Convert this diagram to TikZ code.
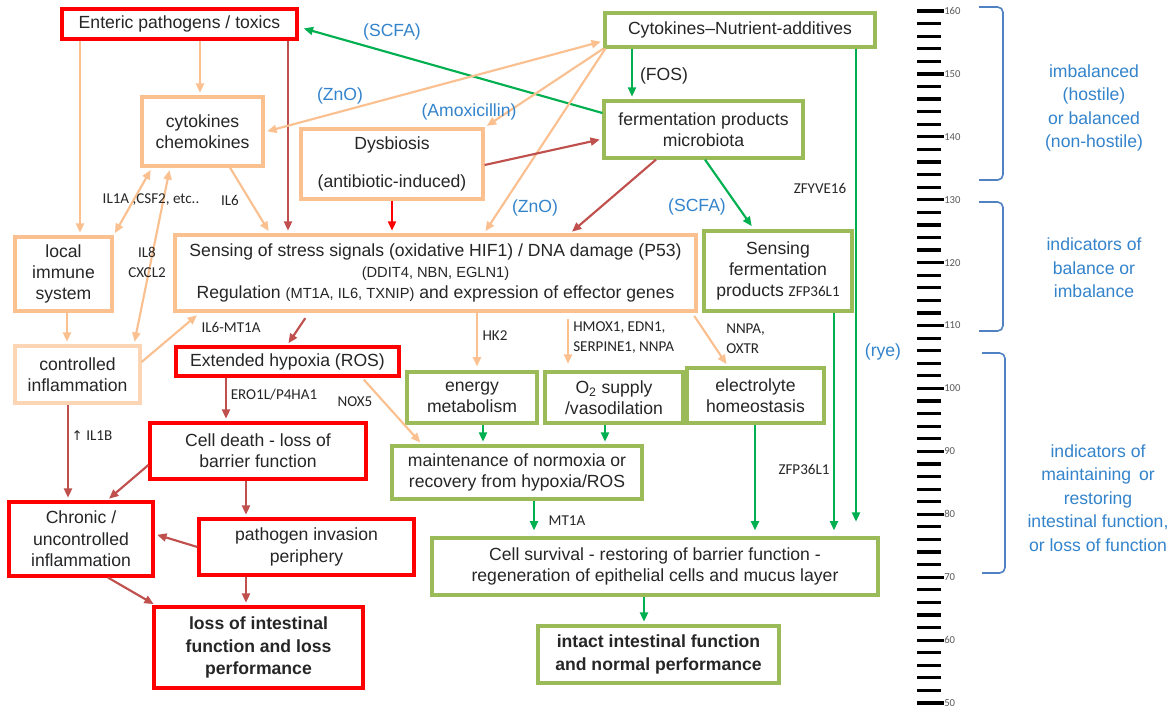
\documentclass[tikz,border=0pt]{standalone}
\usepackage{fontspec}
\setmainfont{Liberation Sans}
\newfontfamily\genefam{Carlito}
\newfontfamily\symfam{DejaVu Sans}
\usetikzlibrary{arrows.meta,calc}

\definecolor{peach}{RGB}{250,192,144}
\definecolor{peachlt}{RGB}{252,213,180}
\definecolor{dred}{RGB}{192,80,77}
\definecolor{bred}{RGB}{255,0,0}
\definecolor{agreen}{RGB}{0,176,80}
\definecolor{bgreen}{RGB}{155,187,89}
\definecolor{lblue}{RGB}{52,132,204}
\definecolor{brkblue}{RGB}{80,130,195}
\definecolor{txt}{RGB}{38,38,38}
\definecolor{scgrey}{RGB}{90,90,90}

\newcommand\mainsz{\fontsize{13.2pt}{16pt}\selectfont}
\newcommand\smallsz{\fontsize{11pt}{13pt}\selectfont}
\newcommand\boldsz{\fontsize{13.2pt}{17pt}\selectfont\bfseries}
\newcommand\genesz{\genefam\fontsize{11.3pt}{15pt}\selectfont}
\newcommand\brksz{\fontsize{13.2pt}{17.6pt}\selectfont}

% box from its corners (x1,y1)-(x2,y2) in picture units
\newcommand\bx[7]{\node[#6, minimum width={(#4-#2)*0.75pt}, minimum height={(#5-#3)*0.75pt}] (#1) at ({(#2+#4)/2},{(#3+#5)/2}) {#7};}

\begin{document}
\begin{tikzpicture}[x=0.75pt,y=-0.75pt,
  >={Triangle[length=7pt,width=6pt]},
  box/.style={draw, line width=2.4pt, fill=white, inner sep=0pt, align=center, text=txt, font=\mainsz},
  redbox/.style={box, draw=bred},
  grnbox/.style={box, draw=bgreen},
  orbox/.style={box, draw=peach},
  ltbox/.style={box, draw=peachlt},
  arr/.style={line width=1.6pt, ->, shorten >=2pt},
  pk/.style={arr, draw=peach},
  dr/.style={arr, draw=dred},
  br/.style={arr, draw=bred},
  gr/.style={arr, draw=agreen},
  lbl/.style={font=\genesz, text=txt, inner sep=0pt},
  blbl/.style={font=\mainsz, text=lblue, inner sep=0pt},
  brk/.style={draw=brkblue, line width=1.2pt, rounded corners=4pt},
  brktext/.style={font=\brksz, text=lblue, align=center, inner sep=0pt},
  sctick/.style={line width=2.4pt, black},
  sclbl/.style={font=\genefam\fontsize{8pt}{8pt}\selectfont, text=scgrey, inner sep=0pt, anchor=west}
]
\fill[white] (0,0) rectangle (1173,711);
\useasboundingbox (0,0) rectangle (1173,711);

% ---------- boxes ----------
\bx{ent}{62}{9}{297}{39}{redbox}{Enteric pathogens / toxics}
\bx{cna}{605}{13}{875}{47}{grnbox}{Cytokines–Nutrient-additives}
\bx{cyt}{142}{97}{263}{166}{orbox}{cytokines\\chemokines}
\bx{dys}{301}{129}{483}{199}{orbox}{Dysbiosis\\[12pt](antibiotic-induced)}
\bx{ferm}{604}{101}{803}{158}{grnbox}{fermentation products\\microbiota}
\bx{lis}{15}{237}{112}{311}{orbox}{local\\immune\\system}
\bx{sss}{175}{235}{696}{311}{orbox}{Sensing of stress signals (oxidative HIF1) / DNA damage (P53)\\{\smallsz (DDIT4, NBN, EGLN1)}\\Regulation {\smallsz (MT1A, IL6, TXNIP)} and expression of effector genes}
\bx{sfp}{704}{231}{852}{311}{grnbox}{Sensing\\fermentation\\products {\genesz ZFP36L1}}
\bx{cin}{15}{346}{140}{403}{ltbox}{controlled\\inflammation}
\bx{ext}{176}{347}{399}{376}{redbox}{Extended hypoxia (ROS)}
\bx{enm}{407}{372}{537}{423}{grnbox}{energy\\metabolism}
\bx{otwo}{545}{372}{683}{423}{grnbox}{O\textsubscript{2} supply\\/vasodilation}
\bx{ely}{687}{368}{824}{423}{grnbox}{electrolyte\\homeostasis}
\bx{cdt}{150}{423}{366}{479}{redbox}{Cell death - loss of\\barrier function}
\bx{mnt}{392}{446}{642}{499}{grnbox}{maintenance of normoxia or\\recovery from hypoxia/ROS}
\bx{chr}{9}{502}{153}{576}{redbox}{Chronic /\\uncontrolled\\inflammation}
\bx{pin}{199}{519}{414}{575}{redbox}{pathogen invasion\\periphery}
\bx{csv}{432}{538}{878}{595}{grnbox}{Cell survival - restoring of barrier function -\\regeneration of epithelial cells and mucus layer}
\bx{los}{154}{607}{363}{688}{redbox, font=\boldsz}{loss of intestinal\\function and loss\\performance}
\bx{itc}{538}{626}{779}{683}{grnbox, font=\boldsz}{intact intestinal function\\and normal performance}

% ---------- connectors ----------
\draw[pk] (ent.south -| 80,0) -- (lis.north -| 80,0);
\draw[pk] (ent.south -| 200,0) -- (cyt.north -| 200,0);
\draw[dr] (ent.south -| 288,0) -- (sss.north -| 288,0);
\draw[gr, shorten >=4pt] (ferm.west |- 0,113) -- (ent.east |- 0,27);
\draw[pk, <->, shorten <=2pt] (cyt.east |- 0,132) -- (cna.west |- 0,41);
\draw[pk] (cna.south west) -- (dys.north east);
\draw[pk] ([xshift=1.5pt]cna.south west) -- (sss.north -| 484,0);
\draw[gr] (cna.south -| 632,0) -- (ferm.north -| 632,0);
\draw[gr, shorten >=11pt] (cna.south -| 856,0) -- (csv.north -| 856,0);
\draw[dr] (dys.east |- 0,165) -- (ferm.west |- 0,139);
\draw[br] (dys.south -| 392,0) -- (sss.north -| 392,0);
\draw[dr] (ferm.south -| 656,0) -- (sss.north -| 570,0);
\draw[gr, shorten >=3pt] (ferm.south -| 705,0) -- (sfp.north -| 754,0);
\draw[pk] (cyt.south -| 230,0) -- (sss.north -| 270,0);
\draw[pk, <->, shorten <=2pt] (cyt.south -| 152,0) -- (lis.north east);
\draw[pk, <->, shorten <=2pt] (cyt.south -| 170,0) -- (cin.north -| 134,0);
\draw[pk] (lis.south -| 67,0) -- (cin.north -| 67,0);
\draw[pk, shorten >=3pt] (cin.east |- 0,362) -- (sss.south -| 200,0);
\draw[dr] (cin.south -| 68,0) -- (chr.north -| 68,0);
\draw[dr, shorten <=5pt] (sss.south -| 309,0) -- (ext.north -| 287,0);
\draw[pk, shorten >=3pt] (sss.south -| 477,0) -- (enm.north -| 477,0);
\draw[pk, shorten <=5pt, shorten >=5pt] (sss.south -| 568,0) -- (otwo.north -| 568,0);
\draw[pk, shorten <=3pt] (sss.south -| 692,0) -- (ely.north -| 728,0);
\draw[dr] (ext.south -| 226,0) -- (cdt.north -| 226,0);
\draw[pk, shorten <=2pt] (ext.south -| 362,0) -- (mnt.north -| 422,0);
\draw[gr] (enm.south -| 483,0) -- (mnt.north -| 483,0);
\draw[gr] (otwo.south -| 605,0) -- (mnt.north -| 605,0);
\draw[gr, shorten >=4.5pt] (ely.south -| 755,0) -- (csv.north -| 755,0);
\draw[gr, shorten >=4.5pt] (sfp.south -| 834,0) -- (csv.north -| 834,0);
\draw[gr, shorten >=4.5pt] (mnt.south -| 534,0) -- (csv.north -| 534,0);
\draw[gr] (csv.south -| 644,0) -- (itc.north -| 644,0);
\draw[dr] (cdt.west |- 0,465) -- (chr.north -| 107,0);
\draw[dr] (cdt.south -| 246,0) -- (pin.north -| 246,0);
\draw[dr] (pin.west |- 0,547) -- (chr.east |- 0,534);
\draw[dr] (chr.south -| 108,0) -- (los.north -| 156,0);
\draw[dr] (pin.south -| 246,0) -- (los.north -| 246,0);

% ---------- connector labels ----------
\node[blbl] (lscfa1) at (392,32) {(SCFA)};
\node[blbl] (lzno1) at (340,96) {(ZnO)};
\node[blbl] (lamox) at (469,112) {(Amoxicillin)};
\node[font=\mainsz, text=txt, inner sep=0pt] (lfos) at (664,76) {(FOS)};
\node[blbl] (lzno2) at (535,208) {(ZnO)};
\node[blbl] (lscfa2) at (697,207) {(SCFA)};
\node[blbl] (lrye) at (883,352) {(rye)};
\node[lbl] (lzfy) at (820,188) {ZFYVE16};
\node[lbl] (lil1a) at (151,200) {IL1A ,CSF2, etc..};
\node[lbl] (lil6) at (230,200) {IL6};
\node[lbl, align=center] (lil8) at (147,262) {IL8\\CXCL2};
\node[lbl] (lil6mt) at (231,327) {IL6-MT1A};
\node[lbl] (lero) at (274,395) {ERO1L/P4HA1};
\node[lbl] (lnox) at (355,402) {NOX5};
\node[lbl] (lil1b) at (92,436) {{\symfam\fontsize{10pt}{12pt}\selectfont ↑} IL1B};
\node[lbl] (lhk) at (495,336) {HK2};
\node[lbl, align=left, anchor=west] (lhmox) at (573,338) {HMOX1, EDN1,\\SERPINE1, NNPA};
\node[lbl, align=left, anchor=west] (lnnpa) at (726,339) {NNPA,\\OXTR};
\node[lbl] (lzfp) at (804,469) {ZFP36L1};
\node[lbl] (lmt) at (567,521) {MT1A};

% ---------- scale ----------
\foreach \i in {0,...,55} {
  \pgfmathsetmacro\yy{11+\i*12.582}
  \draw[sctick] (917,\yy) -- (941,\yy);
}
\foreach \v [count=\k from 0] in {160,150,...,50} {
  \pgfmathsetmacro\yy{11+\k*62.91}
  \draw[sctick] (917,\yy) -- (944,\yy);
  \node[sclbl] (sc\v) at (944,\yy) {\v};
}

% ---------- brackets ----------
\draw[brk] (979,7) -- (1003,7) -- (1003,180) -- (979,180);
\draw[brk] (979,202) -- (1003,202) -- (1003,331) -- (979,331);
\draw[brk] (982,353) -- (1005,353) -- (1005,573) -- (982,573);
\node[brktext] (bt1) at (1094,108) {imbalanced\\(hostile)\\or balanced\\(non-hostile)};
\node[brktext] (bt2) at (1094,268) {indicators of\\balance or\\imbalance};
\node[brktext] (bt3) at (1098,498) {indicators of\\maintaining\, or\\restoring\\intestinal function,\\or loss of function};
\end{tikzpicture}
\end{document}
